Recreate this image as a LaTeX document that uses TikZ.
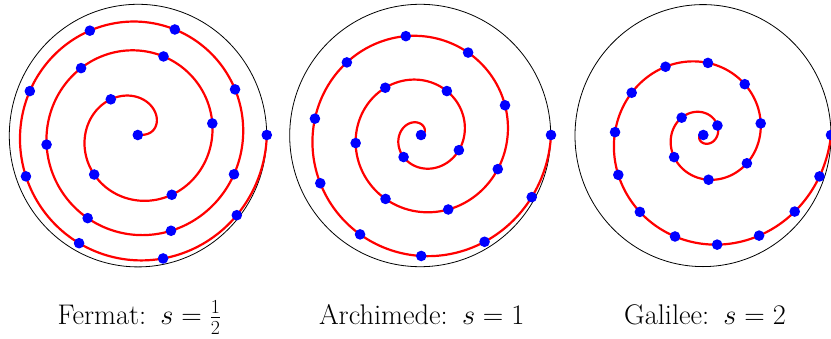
\RequirePackage{fix-cm}
\documentclass[tikz,border=0pt]{standalone}
\ExplSyntaxOn
\int_const:Nn \c_spr_steps_int {720}
\fp_new:N \l_spr_len_fp
\fp_new:N \l_spr_px_fp
\fp_new:N \l_spr_py_fp
\fp_new:N \l_spr_x_fp
\fp_new:N \l_spr_y_fp
\fp_new:N \l_spr_seg_fp
\fp_new:N \l_spr_total_fp
\fp_new:N \l_spr_target_fp
\fp_new:N \l_spr_f_fp
\int_new:N \l_spr_k_int
\tl_new:N \l_spr_path_tl
\tl_new:N \l_spr_dots_tl
% #1 exponent s, #2 radius R, #3 y-scale, #4 cx, #5 cy, #6 number of dots
\cs_new_protected:Npn \spr_point:nnnn #1#2#3#4
  {
    \fp_set:Nn \l_spr_x_fp
      { #2 * (#4 / \c_spr_steps_int) ^ (#1) * cos (6 * pi * #4 / \c_spr_steps_int) }
    \fp_set:Nn \l_spr_y_fp
      { #2 * #3 * (#4 / \c_spr_steps_int) ^ (#1) * sin (6 * pi * #4 / \c_spr_steps_int) }
    \fp_set:Nn \l_spr_seg_fp
      { sqrt ( (\l_spr_x_fp - \l_spr_px_fp) ^ 2 + (\l_spr_y_fp - \l_spr_py_fp) ^ 2 ) }
  }
\cs_new_protected:Npn \spr_build:nnnnnn #1#2#3#4#5#6
  {
    \tl_clear:N \l_spr_path_tl
    \tl_clear:N \l_spr_dots_tl
    % pass 1 : the curve and its length
    \fp_zero:N \l_spr_len_fp
    \fp_zero:N \l_spr_px_fp
    \fp_zero:N \l_spr_py_fp
    \tl_put_right:Nx \l_spr_path_tl
      { \exp_not:N \draw [spiralline] ( \fp_eval:n {#4} , \fp_eval:n {#5} ) }
    \int_step_inline:nn { \c_spr_steps_int }
      {
        \spr_point:nnnn {#1} {#2} {#3} {##1}
        \fp_add:Nn \l_spr_len_fp { \l_spr_seg_fp }
        \fp_set_eq:NN \l_spr_px_fp \l_spr_x_fp
        \fp_set_eq:NN \l_spr_py_fp \l_spr_y_fp
        \tl_put_right:Nx \l_spr_path_tl
          { -- ( \fp_eval:n { round (#4 + \l_spr_x_fp , 3) } ,
                 \fp_eval:n { round (#5 + \l_spr_y_fp , 3) } ) }
      }
    \tl_put_right:Nn \l_spr_path_tl { ; }
    \fp_set_eq:NN \l_spr_total_fp \l_spr_len_fp
    % pass 2 : dots equally spaced along the curve
    \fp_zero:N \l_spr_len_fp
    \fp_zero:N \l_spr_px_fp
    \fp_zero:N \l_spr_py_fp
    \int_set:Nn \l_spr_k_int {1}
    \fp_set:Nn \l_spr_target_fp { \l_spr_total_fp / (#6 - 1) }
    \tl_put_right:Nx \l_spr_dots_tl
      { \exp_not:N \fill [spiraldot] ( \fp_eval:n {#4} , \fp_eval:n {#5} ) circle [radius=5.3bp] }
    \int_step_inline:nn { \c_spr_steps_int }
      {
        \spr_point:nnnn {#1} {#2} {#3} {##1}
        \bool_while_do:nn
          {
            \int_compare_p:nNn { \l_spr_k_int } < { #6 - 1 }
            && \fp_compare_p:nNn { \l_spr_target_fp } < { \l_spr_len_fp + \l_spr_seg_fp }
          }
          {
            \fp_set:Nn \l_spr_f_fp { (\l_spr_target_fp - \l_spr_len_fp) / \l_spr_seg_fp }
            \tl_put_right:Nx \l_spr_dots_tl
              {
                ( \fp_eval:n { round (#4 + \l_spr_px_fp + \l_spr_f_fp * (\l_spr_x_fp - \l_spr_px_fp) , 3) } ,
                  \fp_eval:n { round (#5 + \l_spr_py_fp + \l_spr_f_fp * (\l_spr_y_fp - \l_spr_py_fp) , 3) } )
                circle [radius=5.3bp]
              }
            \int_incr:N \l_spr_k_int
            \fp_set:Nn \l_spr_target_fp { \l_spr_k_int * \l_spr_total_fp / (#6 - 1) }
          }
        \fp_add:Nn \l_spr_len_fp { \l_spr_seg_fp }
        \fp_set_eq:NN \l_spr_px_fp \l_spr_x_fp
        \fp_set_eq:NN \l_spr_py_fp \l_spr_y_fp
      }
    \tl_put_right:Nx \l_spr_dots_tl
      {
        ( \fp_eval:n { round (#4 + \l_spr_px_fp , 3) } ,
          \fp_eval:n { round (#5 + \l_spr_py_fp , 3) } )
        circle [radius=5.3bp] ;
      }
  }
\NewDocumentCommand \Spiral { m m m m m m }
  {
    \spr_build:nnnnnn {#1} {#2} {#3} {#4} {#5} {#6}
    \tl_use:N \l_spr_path_tl
    \tl_use:N \l_spr_dots_tl
  }
\ExplSyntaxOff
\tikzset{
  spiralline/.style={draw=red, line width=2.2bp, line join=round},
  spiraldot/.style={fill=blue},
  bound/.style={draw=black, line width=0.8bp},
  caption/.style={anchor=base, inner sep=0pt, font=\fontsize{28.4bp}{34bp}\selectfont}
}
\begin{document}
\begin{tikzpicture}[x=1bp, y=1bp]
  \useasboundingbox (0,0) rectangle (831,338);
  % bounding circles
  \draw[bound] (138,202.4) ellipse [x radius=128.7bp, y radius=131.3bp];
  \draw[bound] (420.2,202.5) ellipse [x radius=130.5bp, y radius=131.2bp];
  \draw[bound] (703,202.4) ellipse [x radius=128bp, y radius=131bp];
  % spirals with equally spaced points
  \Spiral{0.5}{129}{1.015}{137.8}{203}{20}
  \Spiral{1}{130}{1.015}{421}{203}{20}
  \Spiral{2}{127.7}{1.015}{703.3}{203}{20}
  % captions
  \node[caption] (capF) at (139.5,13.7) {Fermat:\hspace{0.5em}$s=\frac{1}{2}$};
  \node[caption] (capA) at (421.7,13.7) {Archimede:\hspace{0.5em}$s=1$};
  \node[caption] (capG) at (705,13.7) {Galilee:\hspace{0.5em}$s=2$};
\end{tikzpicture}
\end{document}
